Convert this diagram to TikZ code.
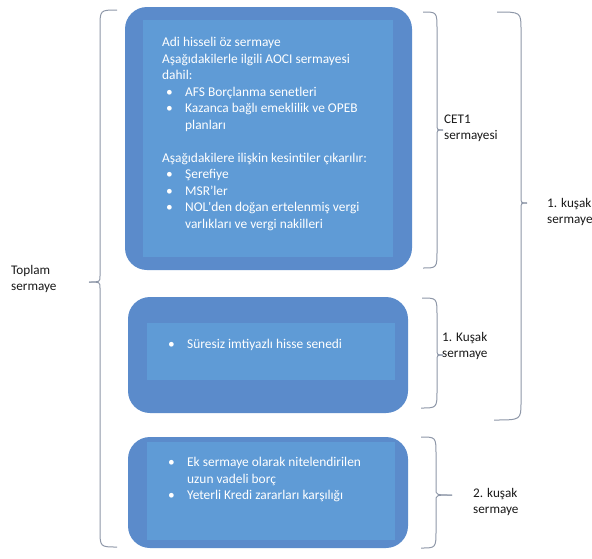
\documentclass[tikz,border=0pt]{standalone}
\usepackage{fontspec}
\setmainfont{Carlito}
\usepackage{xcolor}
\usepackage{tikz}
\usetikzlibrary{calc}

\definecolor{boxedge}{HTML}{5B8BCB}
\definecolor{boxfill}{HTML}{5F9BD6}
\definecolor{brcgray}{HTML}{8E97A8}

\tikzset{
  capbox/.style={rectangle,rounded corners=22pt,fill=boxedge,draw=none,inner sep=0pt},
  capin/.style={fill=boxfill},
  captext/.style={text=white,align=left,inner sep=0pt,anchor=north west,font=\fontsize{13.4}{16.5}\selectfont},
  brc/.style={draw=brcgray,line width=1pt},
  lbl/.style={text=black!90,align=left,inner sep=0pt,anchor=north west,font=\fontsize{13.2}{16}\selectfont}
}
\newcommand{\blt}{\hspace*{4pt}\makebox[19pt][l]{\textbullet}}
\newcommand{\brcdraw}[4]{%
  \path (#3) ++(#4,0) coordinate (sp);
  \draw[brc] (#1) .. controls (#1 -| sp) .. ($(#1 -| sp)+(0,18)$) -- ($(sp)+(0,-6)$) .. controls (sp) .. (#3);
  \draw[brc] (#2) .. controls (#2 -| sp) .. ($(#2 -| sp)+(0,-18)$) -- ($(sp)+(0,6)$) .. controls (sp) .. (#3);}

\begin{document}
\begin{tikzpicture}[x=1pt,y=-1pt]
  \useasboundingbox (0,0) rectangle (592,558);

  % boxes
  \node[capbox,minimum width=287pt,minimum height=263pt] (cet) at (268.5,138.5) {};
  \fill[capin] ([shift={(18,13)}]cet.north west) rectangle ([shift={(-19,-13)}]cet.south east);
  \node[capbox,minimum width=280pt,minimum height=116pt] (ati) at (268,355) {};
  \fill[capin] ([shift={(19,26)}]ati.north west) rectangle ([shift={(-13,-33)}]ati.south east);
  \node[capbox,minimum width=280pt,minimum height=111pt] (tii) at (268,492.5) {};
  \fill[capin] ([shift={(19,5)}]tii.north west) rectangle ([shift={(-13,-8)}]tii.south east);

  \node[captext] (cettxt) at (162,37) {Adi hisseli öz sermaye\\
    Aşağıdakilerle ilgili AOCI sermayesi\\
    dahil:\\
    \blt AFS Borçlanma senetleri\\
    \blt Kazanca bağlı emeklilik ve OPEB\\
    \hspace*{23pt}planları\\[16.5pt]
    Aşağıdakilere ilişkin kesintiler çıkarılır:\\
    \blt Şerefiye\\
    \blt MSR’ler\\
    \blt NOL\textquotesingle den doğan ertelenmiş vergi\\
    \hspace*{23pt}varlıkları ve vergi nakilleri};
  \node[captext] (atitxt) at (164,338.5) {\blt Süresiz imtiyazlı hisse senedi};
  \node[captext] (tiitxt) at (164,457) {\blt Ek sermaye olarak nitelendirilen\\
    \hspace*{23pt}uzun vadeli borç\\
    \blt Yeterli Kredi zararları karşılığı};

  % braces
  \coordinate (totTop) at (117,10);
  \coordinate (totBot) at (117,547);
  \coordinate (totTip) at (89,282);
  \brcdraw{totTop}{totBot}{totTip}{11}
  \coordinate (cetTop) at (423,12);
  \coordinate (cetBot) at (423,268);
  \coordinate (cetTip) at (443,130);
  \brcdraw{cetTop}{cetBot}{cetTip}{-6}
  \coordinate (atiTop) at (422,298);
  \coordinate (atiBot) at (421,408);
  \coordinate (atiTip) at (443,355);
  \brcdraw{atiTop}{atiBot}{atiTip}{-6}
  \coordinate (tiTop) at (497,12);
  \coordinate (tiBot) at (494,420);
  \coordinate (tiTip) at (527,203);
  \brcdraw{tiTop}{tiBot}{tiTip}{-6}
  \coordinate (tiiTop) at (421,437);
  \coordinate (tiiBot) at (421,548);
  \coordinate (tiiTip) at (452,495);
  \brcdraw{tiiTop}{tiiBot}{tiiTip}{-16}

  % labels
  \node[lbl] (totlbl) at (11,265.5) {Toplam\\sermaye};
  \node[lbl] (cetlbl) at (444,115) {CET1\\sermayesi};
  \node[lbl] (atilbl) at (442,332.5) {1. Kuşak\\sermaye};
  \node[lbl] (tilbl) at (547,198.5) {1. kuşak\\sermaye};
  \node[lbl] (tiilbl) at (473,488.5) {2. kuşak\\sermaye};
\end{tikzpicture}
\end{document}
